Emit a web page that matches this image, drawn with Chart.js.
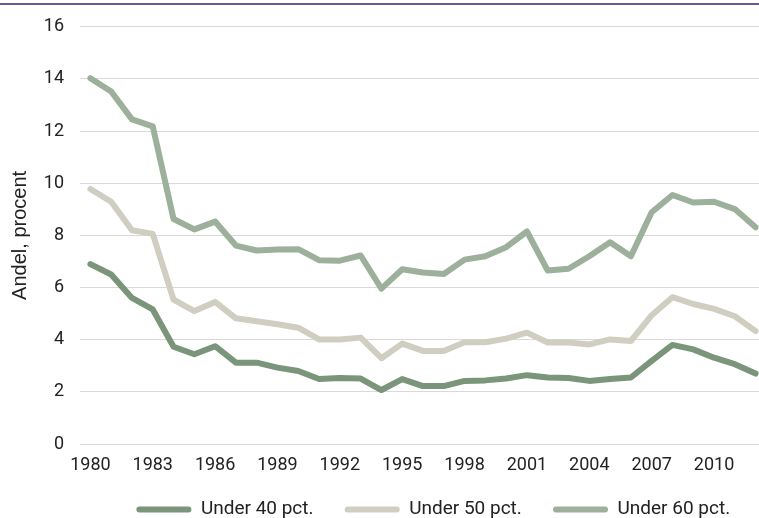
<!DOCTYPE html>
<html>
<head>
<meta charset="utf-8">
<script src="https://cdn.jsdelivr.net/npm/chart.js@4/dist/chart.umd.min.js"></script>
<style>
  html, body { margin: 0; padding: 0; background: #fff; overflow: hidden; }
  #topline { position: absolute; left: 0; top: 3px; width: 100%; height: 2px; background: #6b5b8b; }
  #wrap { position: absolute; left: 0; top: 0; width: 768px; height: 518px; }
</style>
</head>
<body>
<div id="wrap"><canvas id="andel"></canvas></div>
<div id="topline"></div>
<script>
// år
const years = ["1980","1981","1982","1983","1984","1985","1986","1987","1988","1989",
  "1990","1991","1992","1993","1994","1995","1996","1997","1998","1999",
  "2000","2001","2002","2003","2004","2005","2006","2007","2008","2009",
  "2010","2011","2012"];

// andel under 40/50/60 pct. af medianindkomst (aflæst)
const under40 = [6.9, 6.5, 5.6, 5.16, 3.73, 3.44, 3.75, 3.12, 3.12, 2.93,
  2.8, 2.49, 2.53, 2.51, 2.07, 2.49, 2.22, 2.22, 2.42, 2.44,
  2.51, 2.64, 2.55, 2.53, 2.42, 2.49, 2.55, 3.19, 3.8, 3.63,
  3.31, 3.06, 2.7];
const under50 = [9.78, 9.29, 8.2, 8.06, 5.54, 5.1, 5.45, 4.82, 4.71, 4.59,
  4.46, 4.01, 4.01, 4.08, 3.29, 3.85, 3.57, 3.57, 3.9, 3.9,
  4.04, 4.27, 3.89, 3.89, 3.82, 4.01, 3.95, 4.94, 5.63, 5.37,
  5.18, 4.9, 4.33];
const under60 = [14.03, 13.52, 12.45, 12.18, 8.63, 8.23, 8.53, 7.61, 7.42, 7.46,
  7.47, 7.05, 7.03, 7.23, 5.96, 6.7, 6.58, 6.52, 7.07, 7.2,
  7.55, 8.15, 6.65, 6.72, 7.2, 7.74, 7.2, 8.89, 9.55, 9.26,
  9.29, 9.01, 8.31];

const seriesNames = ["Under 40 pct.", "Under 50 pct.", "Under 60 pct."];

const FONT = "Roboto, 'DejaVu Sans', sans-serif";

function serie(label, data, color) {
  return {
    label: label,
    data: data,
    borderColor: color,
    backgroundColor: color,
    borderWidth: 6,
    pointRadius: 0,
    tension: 0,
    borderJoinStyle: "round",
    borderCapStyle: "round",
  };
}

const ctx = document.getElementById("andel");
new Chart(ctx, {
  type: "line",
  data: {
    labels: years,
    datasets: [
      serie(seriesNames[0], under40, "#7a957a"),
      serie(seriesNames[1], under50, "#d0cdc1"),
      serie(seriesNames[2], under60, "#9cb09b"),
    ],
  },
  options: {
    responsive: true,
    maintainAspectRatio: false,
    animation: false,
    layout: { padding: { top: 24, right: 2, left: 0, bottom: -11 } },
    plugins: {
      tooltip: { enabled: false },
      legend: {
        position: "bottom",
        align: "end",
        labels: {
          boxWidth: 55,
          boxHeight: 6,
          useBorderRadius: true,
          borderRadius: 3,
          padding: 17,
          color: "#222",
          font: { family: FONT, size: 19 },
          // lidt ekstra luft mellem punkterne, som i originalen
          generateLabels: function (chart) {
            const items = Chart.defaults.plugins.legend.labels.generateLabels(chart);
            items.forEach(function (it, i) {
              it.text = it.text + (i < items.length - 1 ? "   " : "    ");
              it.lineWidth = 0;
            });
            return items;
          },
        },
      },
    },
    scales: {
      x: {
        offset: true,
        grid: { display: false, drawTicks: false },
        border: { display: false },
        ticks: {
          autoSkip: false,
          maxRotation: 0,
          padding: 11,
          color: "#222",
          font: { family: FONT, size: 18 },
          callback: function (val, idx) {
            return idx % 3 === 0 ? years[idx] : "";
          },
        },
        afterFit: function (s) { s.height = 39; },
      },
      y: {
        min: 0,
        max: 16,
        grid: { color: "#d9d9d9", lineWidth: 1, drawTicks: false },
        border: { display: false },
        ticks: {
          stepSize: 2,
          padding: 16,
          color: "#222",
          font: { family: FONT, size: 18 },
        },
        title: {
          display: true,
          text: "Andel, procent",
          color: "#222",
          padding: { top: 8, bottom: 4 },
          font: { family: "'Liberation Sans', Arial, sans-serif", size: 20 },
        },
        afterFit: function (s) { s.width = 80; },
      },
    },
  },
});
</script>
</body>
</html>
